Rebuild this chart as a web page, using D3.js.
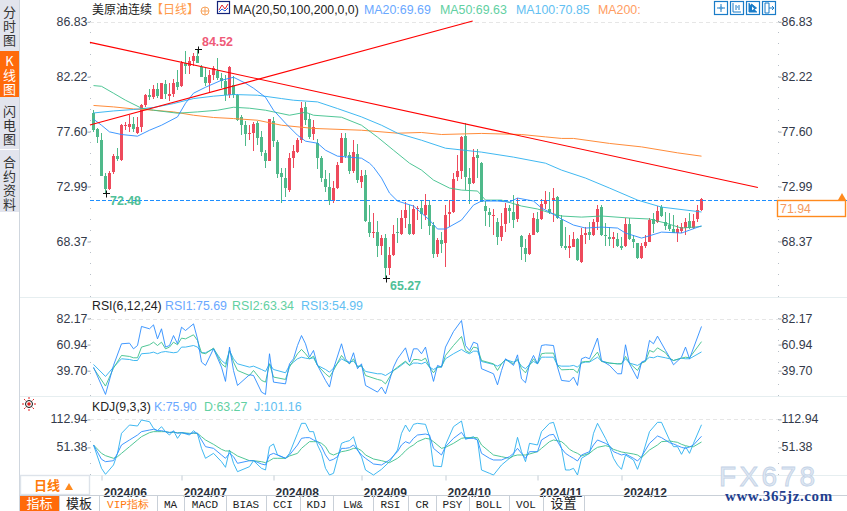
<!DOCTYPE html>
<html>
<head>
<meta charset="utf-8">
<script src="https://cdn.jsdelivr.net/npm/d3@7"></script>
<style>
  body { margin: 0; background: #fff; }
  svg { display: block; }
  text { font-family: 'Liberation Sans', Arial, sans-serif; }
  .cjk { font-family: 'Noto Sans CJK SC', sans-serif; }
  .mono { font-family: 'Liberation Mono', monospace; }
</style>
</head>
<body>
<svg id="chart" width="847" height="511"></svg>
<script>
// Daily candles, one entry per trading day
const opens = [
  79.15,77.81,76.88,73.86,72.77,74.20,75.54,75.21,78.06,77.97,
  78.23,77.47,77.97,79.82,80.66,80.49,81.16,80.32,81.58,80.58,
  80.74,81.75,81.41,83.34,83.09,83.51,83.93,83.01,82.17,81.67,
  82.34,82.67,82.09,81.83,80.66,81.50,80.66,78.81,78.14,77.39,
  77.47,78.31,77.14,75.79,75.12,78.48,76.72,74.12,73.70,72.69,
  75.37,75.88,76.88,79.65,78.65,77.39,76.63,75.37,73.61,72.94,
  71.77,72.86,74.95,77.05,75.63,74.28,75.71,73.36,73.95,70.00,
  69.08,69.16,67.99,68.66,66.14,67.24,69.16,69.00,70.34,69.84,
  69.00,71.10,71.18,70.59,71.43,69.75,67.32,68.49,68.24,70.68,
  70.84,73.78,74.28,77.22,73.70,73.28,75.63,74.95,71.35,70.84,
  70.51,70.00,68.75,69.84,71.18,70.84,70.26,68.83,67.82,67.32,
  68.91,70.26,70.26,71.51,71.10,71.85,72.10,70.17,67.99,67.82,
  67.91,68.58,66.65,68.91,69.16,68.91,70.00,71.26,68.91,68.75,
  68.58,68.58,67.99,67.99,69.84,68.58,68.24,66.98,67.99,68.33,
  70.26,70.00,71.26,70.00,69.75,69.42,69.08,69.25,69.50,70.09,
  69.50,70.26,71.01]
const highs = [
  79.40,77.89,77.47,74.12,74.28,75.71,76.21,78.23,78.39,78.98,
  78.81,78.81,79.90,80.74,81.16,81.50,81.67,81.67,81.92,81.67,
  82.00,82.76,83.51,84.35,83.85,84.18,84.52,83.18,82.92,82.76,
  83.09,83.76,82.51,82.34,83.09,82.25,80.74,78.98,78.48,78.14,
  78.39,78.48,77.64,76.04,78.65,78.81,76.88,74.54,74.54,75.79,
  76.46,77.05,80.07,80.07,79.07,78.56,76.97,75.55,74.37,74.12,
  73.44,75.04,77.47,77.47,75.88,76.88,76.55,74.37,74.37,71.43,
  70.76,70.09,68.91,69.00,67.91,69.75,70.34,71.01,71.68,71.43,
  71.43,71.35,71.85,72.35,71.85,70.00,68.66,69.16,71.43,71.85,
  74.12,75.63,77.22,78.31,74.54,76.13,76.13,75.04,71.77,71.18,
  71.10,70.34,70.76,71.60,71.43,72.27,72.02,68.91,68.58,69.08,
  70.76,70.84,71.93,72.61,72.52,72.86,72.19,70.59,69.58,68.91,
  69.16,68.66,69.50,69.58,70.00,70.26,71.43,71.43,69.92,69.58,
  69.16,69.08,68.75,70.34,70.34,68.91,68.24,68.24,68.91,70.34,
  70.76,71.35,71.43,70.84,70.76,70.59,69.75,69.92,70.34,70.76,
  70.68,71.43,72.02]
const lows = [
  77.56,76.63,73.86,72.48,72.69,74.03,75.12,75.12,77.72,77.56,
  77.56,77.39,77.56,79.65,80.24,80.32,80.41,80.32,80.32,80.16,
  80.49,81.08,81.33,82.42,82.42,83.09,83.34,82.17,81.41,80.83,
  81.92,81.92,81.25,80.16,80.41,80.41,78.48,77.30,76.38,76.88,
  75.96,76.46,75.54,74.54,75.12,76.30,73.70,71.60,72.10,72.52,
  74.54,75.79,76.63,78.14,76.97,76.88,74.45,73.36,72.52,71.43,
  71.60,72.77,74.95,75.37,74.03,74.12,73.28,72.86,70.00,68.75,
  68.66,67.07,67.24,65.27,65.56,67.15,68.24,68.91,69.50,68.91,
  68.91,70.17,69.42,70.17,68.91,66.98,67.07,67.40,66.23,69.58,
  70.76,73.44,73.61,72.69,71.51,73.19,73.70,71.68,69.67,69.58,
  68.91,68.07,68.41,69.16,69.92,69.50,70.00,66.82,66.65,67.24,
  68.91,69.08,70.17,71.10,70.68,70.00,70.26,67.82,67.65,66.98,
  67.91,66.73,66.56,68.16,68.49,68.83,69.33,68.83,67.99,67.99,
  67.82,67.91,67.65,67.91,68.49,67.82,66.90,66.90,67.82,68.33,
  69.08,69.92,70.42,69.33,69.25,69.08,68.33,69.08,68.91,69.42,
  69.42,70.00,70.93]
const closes = [
  77.72,77.14,73.86,72.77,74.12,75.54,75.29,78.14,78.14,78.23,
  77.81,77.97,79.82,80.66,80.49,81.16,80.58,81.67,80.74,80.74,
  81.67,81.33,83.34,83.09,83.51,83.93,83.34,82.17,81.67,82.34,
  82.92,82.09,81.83,80.66,83.01,80.66,78.56,78.14,77.39,77.47,
  78.23,77.05,75.88,75.12,78.65,76.80,74.03,73.78,72.86,75.37,
  75.96,76.88,79.57,78.56,77.14,77.97,75.37,73.70,72.94,71.77,
  72.86,74.79,77.05,75.54,74.28,75.88,73.53,73.86,70.09,69.08,
  69.16,67.99,68.66,66.14,67.24,69.00,69.08,70.34,71.01,69.00,
  71.10,71.18,70.68,71.43,69.67,67.32,68.49,68.16,70.59,70.84,
  73.61,74.28,77.14,73.78,73.19,75.46,75.37,71.68,70.93,70.59,
  70.59,68.75,69.67,71.18,70.93,70.17,71.51,67.91,67.32,68.91,
  70.34,69.16,71.51,71.85,70.84,72.02,70.34,67.99,67.82,67.99,
  68.58,66.82,68.91,69.08,68.91,70.00,71.10,68.91,68.83,68.58,
  68.75,67.99,67.82,69.84,68.58,68.33,66.98,67.99,68.33,70.17,
  69.84,70.93,70.51,69.67,69.42,69.08,69.42,69.58,70.00,69.50,
  70.09,71.01,71.94]

// Moving averages, read at their bends (candle index + value)
const ma20Index = [0,2,4,7,11,14,17,21,23,25,28,32,35,38,40,43,45,48,51,53,56,58,61,64,67,69,70,72,74,76,80,84,86,88,92,95,97,101,104,106,110,112,114,117,120,123,127,131,133,137,138,142,147,152]
const ma20 = [78.65,78.14,77.58,77.36,77.22,77.72,78.14,78.84,79.99,80.83,81.33,81.92,82.17,81.67,81.25,80.49,79.40,78.31,77.30,76.80,76.63,76.04,75.54,75.46,75.37,74.95,74.62,73.70,72.44,71.77,71.35,70.17,69.42,69.42,70.17,71.43,71.77,71.77,71.68,72.02,71.77,71.18,70.84,70.26,69.75,69.50,69.58,69.50,69.08,68.66,68.75,69.16,69.08,69.69]
const ma50Index = [0,2,5,8,12,15,21,26,31,35,39,43,49,53,55,62,67,71,75,79,82,85,89,92,96,98,102,107,111,114,117,122,127,134,139,143,147,152]
const ma50 = [81.47,81.41,80.83,80.24,79.57,79.40,79.15,79.26,79.40,79.65,79.57,79.40,78.98,79.23,78.98,78.81,78.14,77.14,76.04,74.95,74.37,73.53,72.86,72.69,72.61,71.85,71.85,71.35,71.10,70.79,70.51,70.42,70.51,70.34,70.26,69.92,69.50,69.63]
const ma100Index = [0,5,10,15,20,25,30,35,41,47,50,56,61,67,72,76,82,88,97,105,113,117,123,129,136,142,152]
const ma100 = [79.17,79.34,79.46,79.63,79.96,80.38,80.58,80.72,80.66,80.38,80.24,80.10,79.54,78.84,78.14,77.47,76.88,76.21,75.88,75.46,74.95,74.37,73.70,72.86,71.85,71.26,70.85]
const ma200Index = [0,5,10,15,20,25,30,35,41,47,55,67,76,82,87,97,107,113,117,120,129,137,146,152]
const ma200 = [79.80,79.68,79.51,79.40,79.26,78.98,78.79,78.70,78.56,78.14,77.87,77.72,77.47,77.53,77.36,77.45,77.36,77.16,77.03,77.03,76.61,76.32,75.82,75.54]

// Hand drawn trend lines (candle index, price)
const trendDownIndex = [-0.9, 166.1]
const trendDown = [85.1, 72.91]
const trendUpIndex = [-0.9, 94.8]
const trendUp = [78.16, 86.9]

// RSI panel
const rsiIndex = [
  0,3,5,7,9,10,11,12,14,15,
  16,17,18,19,20,21,22,23,25,26,
  27,28,30,32,33,34,35,36,39,40,
  42,43,44,45,48,49,50,51,52,53,
  54,55,56,58,59,60,62,63,64,65,
  66,67,68,71,72,73,75,76,78,79,
  80,81,82,83,84,85,86,87,88,90,
  92,93,94,95,96,97,100,101,102,103,
  105,106,107,108,109,110,111,112,113,115,
  116,117,119,120,121,122,123,124,126,127,
  129,131,132,133,134,136,137,138,139,140,
  141,143,144,145,147,148,149,152]
const rsi1 = [
  42.6,20.4,44,61.6,62.1,57.5,60.2,75.7,73.8,77,
  65.6,73.8,58.9,60.2,68.3,61.6,75.1,72.4,77.8,65.6,
  46.7,44,57.5,42.6,31,58.9,39.9,27.7,36.4,35.8,
  22.3,20.4,53.5,30.4,29,45.3,49.4,60.2,68.3,61.6,
  50.7,56.2,44,31.8,26.4,41.3,61.6,49.4,45.3,54.3,
  41.3,45.3,27.7,22.3,26.4,20.9,42.6,49.4,58.3,46.7,
  57.5,57.5,53.5,58.9,44,31,44,42.6,58.9,71.6,
  80.5,60.2,56.2,62.9,61.6,41.3,37.2,28.2,39.9,49.4,
  44,52.6,33.1,29.9,45.3,52.1,45.3,60.2,60.8,60.2,
  42.6,31.8,31,34.5,27.7,49.4,50.7,49.4,66.2,48,
  44,37.2,37.2,60.8,45.3,33.1,46.7,48,64.3,61.6,
  67.8,56.2,50.7,44.5,50.7,58.9,49.4,75.69]
const rsi2 = [
  41.8,27.2,41.8,52.1,51.3,50.2,50.2,58.9,60.8,62.9,
  60.2,62.9,57.5,58.9,62.9,60.8,66.2,65.6,68.9,64.3,
  54.3,53.5,58.1,45.3,42.6,56.2,46.7,39.9,35.8,39.9,
  31.8,30.4,45.3,34.5,32.6,42.6,48,53.5,57,53.5,
  49.4,51.5,44,37.2,34.5,39.9,52.1,48,45.3,49.4,
  42.6,44,35.8,32.6,31.8,29,39.9,42.6,47.5,44,
  48.8,48.8,48,49.9,42.6,38,42.6,42.6,52.1,60.2,
  67.5,56.2,54.3,58.9,58.1,48,45.3,39.9,45.3,48.6,
  45.3,49.4,41.3,38,44,49.4,45.3,53.5,54,54,
  44,40.4,40.7,40.7,38,46.7,47.2,47.2,54.8,47.2,
  45.9,45.3,45.3,51.3,45.9,39.9,45.9,47.2,56.2,54.8,
  58.3,54.3,49.9,48,49.9,50.7,50.2,63.34]
const rsi3 = [
  44.8,35,42.6,49.4,48.8,48,48,53.5,54,54.8,
  53.5,54.8,55.3,54.8,54.3,54.8,58.9,58.9,60.2,58.9,
  54.3,54.3,57.5,48,45.3,56.2,49.4,45.3,42.6,43.4,
  40.7,39.1,45.3,40.7,38,44,46.7,49.4,50.7,49.9,
  49.4,50.2,44,40.7,38.5,41.8,49.4,47.5,46.7,47.5,
  43.4,43.4,39.1,37.2,37.2,35.8,39.9,41.8,46.7,44,
  45.9,45.9,45.3,46.7,42.6,40.7,42.6,43.1,49.4,53.5,
  57,54.8,53.5,55.6,55.6,47.2,44.8,43.4,45.3,48.8,
  46.7,48,43.4,41.3,44.8,47.2,45.3,50.7,50.7,50.7,
  44,43.4,43.4,44,42.6,45.9,46.7,46.7,50.7,47.5,
  45.9,45.3,45.3,49.4,45.9,44,45.9,48,50.7,50.2,
  51.5,50.2,49.4,48,49.9,49.4,49.4,54.99]

// KDJ panel
const kdjIndex = [
  0,2,3,5,6,7,9,11,12,14,
  15,16,17,18,19,20,21,22,24,25,
  26,27,28,30,32,33,34,35,36,39,
  40,42,43,44,45,46,48,49,51,52,
  53,54,55,56,57,58,59,60,61,62,
  63,64,65,66,67,68,70,72,74,76,
  77,78,79,80,81,83,84,85,87,88,
  90,92,93,95,96,97,99,100,102,104,
  105,106,107,108,109,111,112,114,115,117,
  118,119,120,121,122,124,125,126,128,129,
  130,131,132,133,135,136,137,139,141,142,
  144,145,146,147,148,149,150,152]
const kdjK = [
  56.7,25.2,20,22.2,38.3,56.7,67.7,78.6,86,89.6,
  91.1,88.2,88.2,86,83.8,86,82.3,83.8,80.8,83.8,
  82.3,67.7,53,49.3,34.7,27.4,38.3,31,16.4,22.2,
  22.2,14.9,12.7,34.7,38.3,34.7,27.4,34.7,56.7,71.3,
  72.8,72.8,67.7,64,53,34.7,22.2,25.2,31,49.3,
  49.3,50.8,56.7,45.7,34.7,27.4,14.9,12.7,23.7,42,
  56.7,64,60.3,71.3,78.6,80.8,78.6,49.3,34.7,53,
  71.3,84.5,71.3,71.3,67.7,38.3,27.4,23.7,23.7,31,
  38.3,49.3,38.3,27.4,42,42,67.7,78.6,80.1,49.3,
  38.3,32.5,27.4,21.5,34.7,42,56.7,67.7,60.3,55.2,
  42,38.3,34.7,36.9,27.4,21.5,31,60.3,76.5,72.8,
  61.8,58.9,55.2,51.5,49.3,52.3,56.7,75.90]
const kdjD = [
  56.7,38.3,33.2,27.4,31,38.3,53,67.7,75,83.8,
  86,86,86,86,84.5,84.5,83.8,83.8,82.3,82.3,
  82.3,75,67.7,58.1,47.1,43.5,43.5,38.3,32.5,22.2,
  22.2,20,17.8,22.2,27.4,27.4,27.4,32.5,38.3,49.3,
  56.7,64,64,64,60.3,53,38.3,34.7,38.3,42,
  43.5,45.7,49.3,49.3,44.2,34.7,25.9,22.2,17.8,27.4,
  34.7,44.2,51.5,56.7,64,71.3,69.9,64,49.3,51.5,
  60.3,71.3,72.8,72.8,72.8,56.7,42,34.7,31,27.4,
  32.5,34.7,34.7,34.7,36.9,42,49.3,64,67.7,64,
  56.7,47.1,42,38.3,32.5,38.3,45.7,51.5,55.2,53,
  47.1,44.2,41.3,39.8,36.9,34.7,28.8,45.7,56.7,64,
  65.5,64,62.5,58.1,55.2,53,53,63.27]
const kdjJ = [
  56.7,5.4,-7.8,12.7,38.3,82.3,100.6,98.4,111.6,107.9,
  93.3,88.2,97,86,78.6,88.2,71.3,83.8,78.6,88.2,
  80.8,49.3,27.4,38.3,20,7.6,45.7,16.4,-2,9,
  22.2,5.4,1.7,53,58.9,34.7,27.4,38.3,82.3,104.3,
  104.3,86,86,56.7,38.3,5.4,-9.3,-5.6,27.4,60.3,
  64,66.2,75,45.7,31,1.7,-9.3,3.2,20,45.7,
  82.3,100.6,86,102.1,104.3,102.1,75,10.5,9,56.7,
  97,109.4,69.1,75,67.7,1.7,-5.6,-9.3,12.7,27.4,
  34.7,73.5,42,20,60.3,56.7,86,104.3,106.5,49.3,
  1.7,1.7,5.4,-9.3,27.4,38.3,82.3,104.3,71.3,53,
  27.4,12.7,3.2,34.7,23.7,3.2,27.4,86,106.5,106.5,
  67.7,53,53,36.2,53,38.3,60.3,101.16]

// Axis labels
const priceTicks = [86.83, 82.22, 77.60, 72.99, 68.37]
const rsiTicks = [82.17, 60.94, 39.70]
const kdjTicks = [112.94, 51.38]
const monthIndex = [2, 22, 45, 67, 88, 111, 132]
const monthLabels = ['2024/06', '2024/07', '2024/08', '2024/09', '2024/10', '2024/11', '2024/12']

// Legend texts
const maLegend = ['MA20:69.69', 'MA50:69.63', 'MA100:70.85', 'MA200:']
const rsiLegend = ['RSI1:75.69', 'RSI2:63.34', 'RSI3:54.99']
const kdjLegend = ['K:75.90', 'D:63.27', 'J:101.16']
const lastPrice = 71.94

// Side and bottom tabs
const sideTabs = ['分时图', 'K线图', '闪电图', '合约资料']
const bottomTabs = ['指标', '模板', 'VIP指标', 'MA', 'MACD', 'BIAS', 'CCI', 'KDJ', 'LW&', 'RSI', 'CR', 'PSY', 'BOLL', 'VOL', '设置']
const bottomEdges = [20, 59, 99, 157, 184, 226, 266, 300, 333, 373, 408, 436, 469, 509, 543, 584]

const RED = '#ee4a5c'
const GREEN = '#4fb98a'
const C1 = '#2a8cff'
const C2 = '#3cc08a'
const C3 = '#2ab0ef'
const C4 = '#ff8c3a'
const ORANGE = '#ff7a0a'
const LINE = '#e6eef0'

const svg = d3.select('#chart')

const x = d3.scaleLinear().domain([0, 152]).range([93.5, 701.5])
const yPrice = d3.scaleLinear().domain([86.83, 68.37]).range([21.8, 241.5])
const yRsi = d3.scaleLinear().domain([82.17, 39.70]).range([318.5, 370.7])
const yKdj = d3.scaleLinear().domain([112.94, 51.38]).range([419.4, 447.4])

/**
 * Draws a polyline through the given values.
 *
 * @param {number[]} index The candle index of each vertex
 * @param {number[]} values The value of each vertex
 * @param {*} y The y scale of the panel
 * @param {string} color The stroke color
 * @param {number} width The stroke width
 */
function drawLine(index, values, y, color, width = 1) {
  const line = d3.line()
    .x((d, k) => x(index[k]))
    .y(d => y(d))

  svg.append('path')
    .attr('d', line(values))
    .attr('fill', 'none')
    .attr('stroke', color)
    .attr('stroke-width', width)
}

/**
 * Draws the left and right value axes of a panel.
 *
 * @param {*} y The y scale of the panel
 * @param {number[]} ticks The labelled values
 * @param {number} top The top of the dotted axis
 * @param {number} bottom The bottom of the dotted axis
 * @param {number} nudge Vertical shift of the labels
 */
function drawValueAxes(y, ticks, top, bottom, nudge) {
  const axes = [
    { axis: d3.axisLeft(y), px: 90 },
    { axis: d3.axisRight(y), px: 778 }
  ]

  axes.forEach(({ axis, px }) => {
    svg.append('line')
      .attr('x1', px + 0.5).attr('x2', px + 0.5)
      .attr('y1', top).attr('y2', bottom)
      .attr('stroke', '#b9c0c8')
      .attr('stroke-dasharray', '1,10')

    const g = svg.append('g')
      .attr('transform', `translate(${px + 0.5},0)`)
      .call(axis.tickValues(ticks).tickFormat(d3.format('.2f')).tickSize(3).tickPadding(0))

    g.select('.domain').remove()
    g.selectAll('line').attr('stroke', '#9aa3ad')
    g.selectAll('text')
      .attr('x', px === 90 ? -3 : 3)
      .attr('dy', '0.34em')
      .attr('transform', `translate(0,${nudge})`)
      .style('font-size', '12.4px')
      .style('font-family', "'Liberation Sans', Arial, sans-serif")
      .attr('fill', '#333a4a')
  })

  svg.append('line')
    .attr('x1', 90).attr('x2', 778)
    .attr('y1', Math.round(y(ticks[0])) + 0.5).attr('y2', Math.round(y(ticks[0])) + 0.5)
    .attr('stroke', '#e6e6e6')
    .attr('stroke-dasharray', '4,3')
}

/**
 * Writes a row of legend texts.
 *
 * @param {string[]} texts The legend texts
 * @param {number[]} px The x position of each text
 * @param {string[]} colors The color of each text
 * @param {number} py The baseline
 */
function drawLegend(texts, px, colors, py) {
  svg.selectAll(null)
    .data(texts)
    .enter()
    .append('text')
    .attr('x', (d, k) => px[k])
    .attr('y', py)
    .attr('fill', (d, k) => colors[k])
    .style('font-size', '12.4px')
    .text(d => d)
}

// Frame
svg.append('line').attr('x1', 19.5).attr('x2', 19.5).attr('y1', 0).attr('y2', 511).attr('stroke', '#cfd6de')
;[297, 396, 475].forEach(py => {
  svg.append('line')
    .attr('x1', 20).attr('x2', 847)
    .attr('y1', py + 0.5).attr('y2', py + 0.5)
    .attr('stroke', LINE)
})

// Side tabs, written top to bottom
svg.append('rect').attr('width', 19).attr('height', 212).attr('fill', '#e2e4ed')
svg.append('rect').attr('y', 51).attr('width', 19).attr('height', 46).attr('fill', '#ff6a0a')
const sideTops = [6, 55, 105, 156]
sideTabs.forEach((tab, k) => {
  svg.append('text')
    .attr('class', 'cjk')
    .attr('x', 9.5)
    .attr('y', sideTops[k])
    .attr('fill', k === 1 ? '#fff' : '#333')
    .style('writing-mode', 'vertical-rl')
    .style('text-orientation', 'upright')
    .style('letter-spacing', '1px')
    .style('font-size', '13px')
    .text(tab)
})
svg.append('line').attr('x1', 0).attr('x2', 19).attr('y1', 149.5).attr('y2', 149.5).attr('stroke', '#fff')

// Axes
drawValueAxes(yPrice, priceTicks, 21, 297, -0.6)
drawValueAxes(yRsi, rsiTicks, 318, 396, -0.6)
drawValueAxes(yKdj, kdjTicks, 419, 475, -1.5)

// Candles
const candles = svg.append('g').attr('shape-rendering', 'crispEdges')
candles.selectAll('.wick')
  .data(d3.range(opens.length))
  .enter()
  .append('rect')
  .attr('class', 'wick')
  .attr('x', i => x(i) - 0.5)
  .attr('width', 1)
  .attr('y', i => yPrice(highs[i]))
  .attr('height', i => yPrice(lows[i]) - yPrice(highs[i]))
  .attr('fill', i => closes[i] >= opens[i] ? RED : GREEN)

candles.selectAll('.body')
  .data(d3.range(opens.length))
  .enter()
  .append('rect')
  .attr('class', 'body')
  .attr('x', i => x(i) - 1.5)
  .attr('width', 3)
  .attr('y', i => yPrice(Math.max(opens[i], closes[i])))
  .attr('height', i => Math.max(1, Math.abs(yPrice(opens[i]) - yPrice(closes[i]))))
  .attr('fill', i => closes[i] >= opens[i] ? RED : GREEN)

// Moving averages and trend lines
drawLine(ma200Index, ma200, yPrice, C4, 1)
drawLine(ma100Index, ma100, yPrice, C3, 0.9)
drawLine(ma50Index, ma50, yPrice, C2, 0.9)
drawLine(ma20Index, ma20, yPrice, C1, 0.9)
drawLine(trendDownIndex, trendDown, yPrice, '#ff0000', 1.1)
drawLine(trendUpIndex, trendUp, yPrice, '#ff0000', 1.1)

// Last price
svg.append('line')
  .attr('x1', 90).attr('x2', 847)
  .attr('y1', 200.5).attr('y2', 200.5)
  .attr('stroke', '#1e8fff')
  .attr('stroke-dasharray', '4,2')
svg.append('rect')
  .attr('x', 777.5).attr('y', 200.5)
  .attr('width', 68).attr('height', 16)
  .attr('fill', '#fff')
  .attr('stroke', '#ff8a1e')
  .attr('stroke-width', 1.4)
svg.append('text')
  .attr('x', 780).attr('y', 213)
  .attr('fill', '#f59a5e')
  .style('font-size', '12.4px')
  .text(d3.format('.2f')(lastPrice))
svg.append('path').attr('d', 'M838,200L842,193L846,200Z').attr('fill', '#ff8a1e')

// High and low marks
const lowIndex = lows.indexOf(d3.min(lows))
const highIndex = highs.indexOf(d3.max(highs))
const marks = [
  { i: highIndex, value: highs[highIndex], color: '#ef5a78', dx: 4, dy: -4 },
  { i: 3, value: lows[3], color: '#4fc098', dx: 4, dy: 11 },
  { i: lowIndex, value: lows[lowIndex], color: '#4fc098', dx: 4, dy: 11 }
]
marks.forEach(({ i, value, color, dx, dy }) => {
  const px = Math.round(x(i))
  const py = Math.round(yPrice(value)) + 0.5
  svg.append('path')
    .attr('d', `M${px - 3},${py}H${px + 4}M${px + 0.5},${py - 3}V${py + 4}`)
    .attr('stroke', '#111')
  svg.append('text')
    .attr('x', px + dx)
    .attr('y', py + dy)
    .attr('fill', color)
    .style('font-size', '12.4px')
    .style('font-weight', 'bold')
    .text(d3.format('.2f')(value))
})

// Lower panels
drawLine(rsiIndex, rsi3, yRsi, C3, 0.9)
drawLine(rsiIndex, rsi2, yRsi, C2, 0.9)
drawLine(rsiIndex, rsi1, yRsi, C1, 0.9)
drawLine(kdjIndex, kdjJ, yKdj, C3, 0.9)
drawLine(kdjIndex, kdjD, yKdj, C2, 0.9)
drawLine(kdjIndex, kdjK, yKdj, C1, 0.9)

// Header
svg.append('text').attr('class', 'cjk').attr('x', 92).attr('y', 14).attr('fill', '#222').style('font-size', '12px').text('美原油连续')
svg.append('text').attr('class', 'cjk').attr('x', 151).attr('y', 14).attr('fill', '#ff9a4a').style('font-size', '12px').text('【日线】')
svg.append('circle').attr('cx', 205).attr('cy', 11).attr('r', 4).attr('fill', 'none').attr('stroke', '#f7a35c')
svg.append('path').attr('d', 'M201,11H209M205,7V15').attr('stroke', '#f7a35c')
svg.append('rect').attr('x', 217.5).attr('y', 1.5).attr('width', 12).attr('height', 12).attr('fill', '#fff').attr('stroke', '#14237a').attr('stroke-width', 1.2)
svg.append('path').attr('d', 'M219,10L222,5L225,9L228,4').attr('fill', 'none').attr('stroke', '#e0242c')
svg.append('path').attr('d', 'M219,12L222,9L225,11L228,8').attr('fill', 'none').attr('stroke', '#2a5cd8')
svg.append('text').attr('x', 233).attr('y', 14).attr('fill', '#222').style('font-size', '12.3px').text('MA(20,50,100,200,0,0)')
drawLegend(maLegend, [364, 440, 516, 598], ['#6aa8ff', '#62d0a2', '#62c0f2', '#ff9d62'], 14)

svg.append('text').attr('x', 92).attr('y', 310).attr('fill', '#222').style('font-size', '12.3px').text('RSI(6,12,24)')
drawLegend(rsiLegend, [165, 232, 301], ['#6aa8ff', '#62d0a2', '#62c0f2'], 310)
svg.append('text').attr('x', 92).attr('y', 411).attr('fill', '#222').style('font-size', '12.3px').text('KDJ(9,3,3)')
drawLegend(kdjLegend, [154, 204, 254], ['#6aa8ff', '#62d0a2', '#62c0f2'], 411)

// Tool icons, top right
;[714, 730, 746, 762].forEach((px, k) => {
  svg.append('rect')
    .attr('x', px + 0.5).attr('y', 1.5)
    .attr('width', 13).attr('height', 13)
    .attr('fill', '#fff').attr('stroke', '#1a7cc8').attr('stroke-width', 1.2)
  const glyphs = [
    `M${px + 3},8H${px + 5.5}M${px + 8.5},8H${px + 11}M${px + 7},4V6.5M${px + 7},9.5V12M${px + 6},7h2v2h-2z`,
    `M${px + 3},3V12H${px + 11}M${px + 6},5V10M${px + 9},5V10M${px + 7},7H${px + 8}`,
    `M${px + 3},3V12H${px + 11}M${px + 5.5},4L${px + 10.5},8L${px + 5.5},11Z`,
    `M${px + 3},3V13M${px + 3},3H${px + 7}V13H${px + 3}M${px + 7},8H${px + 12}M${px + 10},6L${px + 12},8L${px + 10},10`
  ]
  svg.append('path').attr('d', glyphs[k]).attr('fill', k === 2 ? '#1a7cc8' : 'none').attr('stroke', '#1a7cc8')
})

// Alert icon of the KDJ panel
const sunRays = d3.range(8).map(k => k * Math.PI / 4)
svg.selectAll(null)
  .data(sunRays)
  .enter()
  .append('line')
  .attr('x1', d => 29 + Math.cos(d) * 5)
  .attr('y1', d => 404 + Math.sin(d) * 5)
  .attr('x2', d => 29 + Math.cos(d) * 7)
  .attr('y2', d => 404 + Math.sin(d) * 7)
  .attr('stroke', '#e02020')
svg.append('circle').attr('cx', 29).attr('cy', 404).attr('r', 3.5).attr('fill', '#fff').attr('stroke', '#111')
svg.append('circle').attr('cx', 29).attr('cy', 404).attr('r', 1.8).attr('fill', '#e02020')

// Date axis
const dateAxis = svg.append('g')
  .attr('transform', 'translate(0,475.5)')
  .call(d3.axisBottom(x)
    .tickValues(monthIndex)
    .tickFormat((d, k) => monthLabels[k])
    .tickSize(5)
    .tickPadding(0))
dateAxis.select('.domain').remove()
dateAxis.selectAll('line').attr('stroke', '#c4ccd4')
dateAxis.selectAll('text')
  .attr('y', 13)
  .attr('x', 1.5)
  .attr('text-anchor', 'start')
  .attr('fill', '#2a2f3a')
  .style('font-size', '12px')
  .style('font-weight', 'bold')
  .style('font-family', "'Liberation Sans', Arial, sans-serif")

// Period switch
svg.append('rect').attr('x', 20.5).attr('y', 475.5).attr('width', 69).attr('height', 19).attr('fill', '#fff').attr('stroke', '#dde3ea').attr('stroke-width', 1.4)
svg.append('text').attr('class', 'cjk').attr('x', 34).attr('y', 490).attr('fill', ORANGE).style('font-size', '13px').style('font-weight', 'bold').text('日线')
svg.append('path').attr('d', 'M65,490L69,483L73,490Z').attr('fill', '#ff8a1e')

// Bottom tabs
svg.append('line').attr('x1', 20).attr('x2', 847).attr('y1', 495.5).attr('y2', 495.5).attr('stroke', '#c9d0d8')
bottomTabs.forEach((tab, k) => {
  const x0 = bottomEdges[k]
  const x1 = bottomEdges[k + 1]
  const isCjk = k < 2 || k === 14
  if (k === 0) {
    svg.append('rect').attr('x', x0).attr('y', 496).attr('width', x1 - x0).attr('height', 15).attr('fill', '#ff6a0a')
  }
  svg.append('line').attr('x1', x1 + 0.5).attr('x2', x1 + 0.5).attr('y1', 496).attr('y2', 511).attr('stroke', '#c9d0d8')
  svg.append('text')
    .attr('class', isCjk ? 'cjk' : 'mono')
    .attr('x', (x0 + x1) / 2)
    .attr('y', 507.5)
    .attr('text-anchor', 'middle')
    .attr('fill', k === 0 ? '#fff' : k === 2 ? ORANGE : '#222')
    .style('font-size', isCjk ? '13px' : '11px')
    .text(tab)
})

// Watermark
svg.append('text')
  .attr('x', 719).attr('y', 486)
  .attr('fill', '#dfe8f3')
  .attr('stroke', '#c3d2e6')
  .attr('stroke-width', 0.8)
  .style('font-size', '28px')
  .style('letter-spacing', '3.4px')
  .text('FX678')
svg.append('text')
  .attr('x', 725).attr('y', 501)
  .attr('fill', '#1f3f8f')
  .style('font-family', "'Liberation Serif', serif")
  .style('font-size', '15px')
  .style('font-weight', 'bold')
  .style('letter-spacing', '0.6px')
  .text('www.365jz.com')
</script>
</body>
</html>
